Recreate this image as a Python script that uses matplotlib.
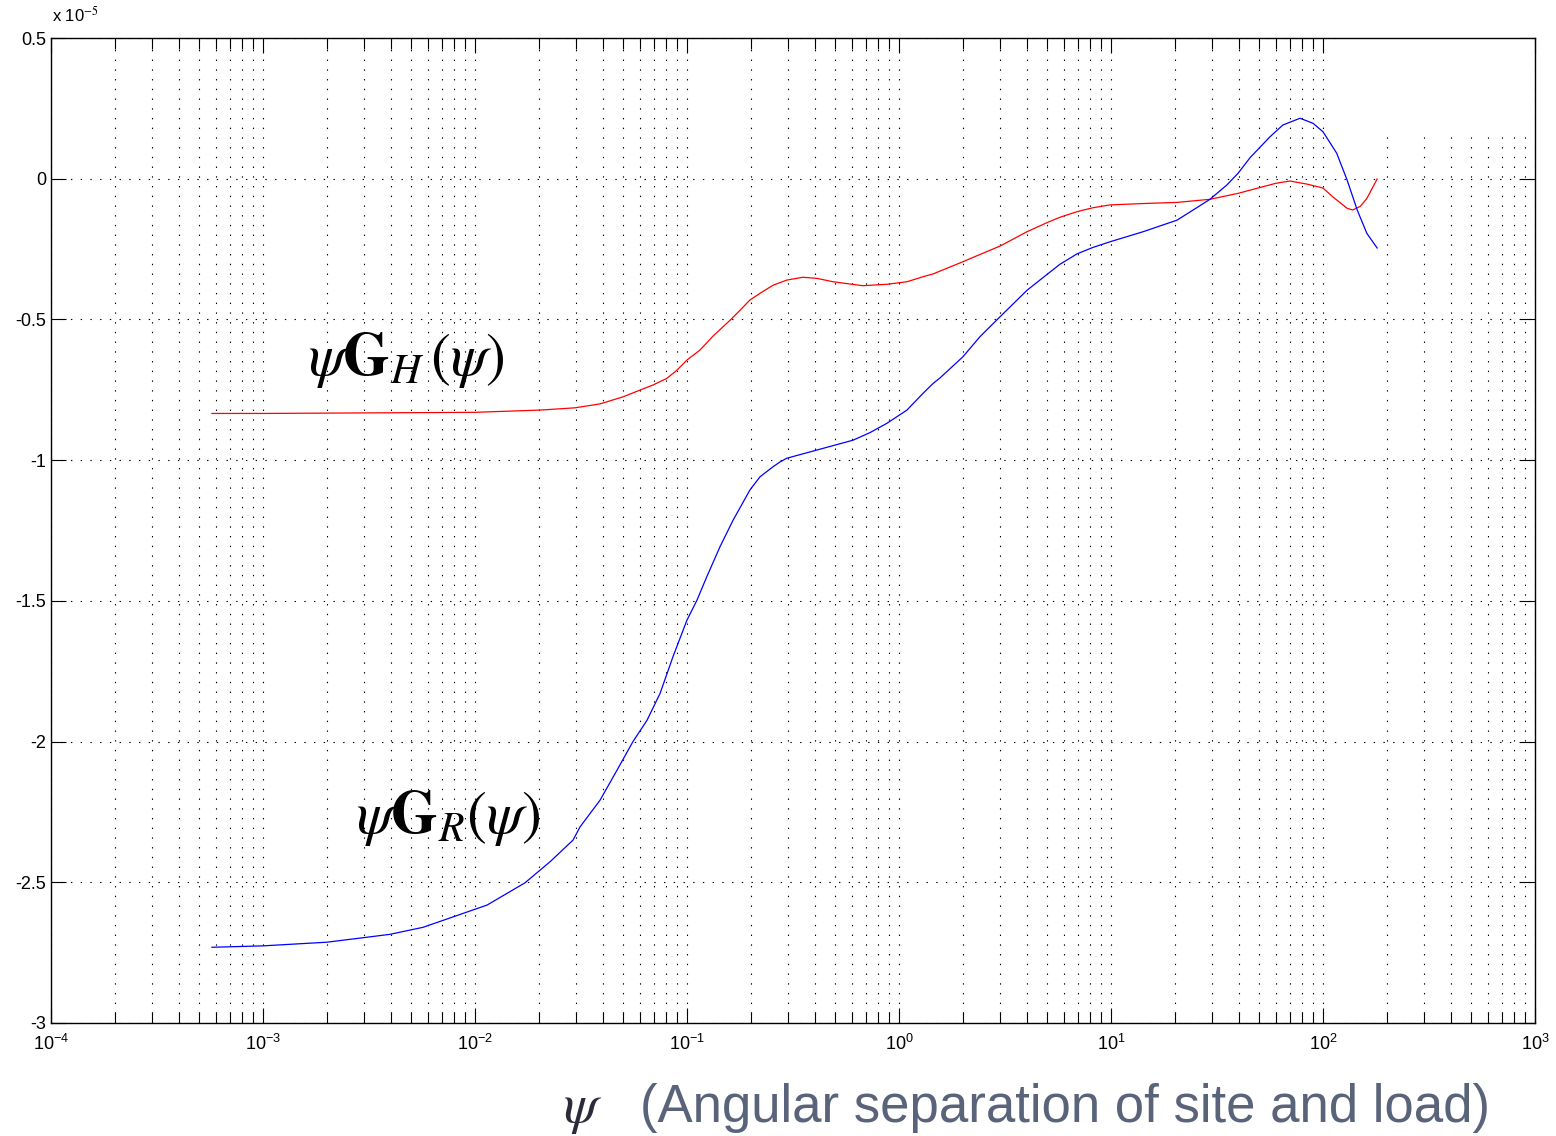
import numpy as np
import matplotlib
matplotlib.use('Agg')
import matplotlib.pyplot as plt
from matplotlib.ticker import LogLocator, FixedLocator, FormatStrFormatter
from matplotlib.patches import Rectangle

plt.rcParams['font.family'] = ['Liberation Sans', 'DejaVu Sans']
plt.rcParams['mathtext.fontset'] = 'stix'
plt.rcParams['axes.unicode_minus'] = False
plt.rcParams['lines.scale_dashes'] = False

# psi (deg) and psi*G_H(psi), values x 1e-5
psi_h = [5.74e-4, 1e-3, 0.01, 0.0203, 0.0296, 0.0389, 0.0499, 0.060, 0.0691,
         0.0805, 0.0897, 0.1, 0.115, 0.1327, 0.16, 0.178, 0.198, 0.221, 0.255,
         0.296, 0.352, 0.41, 0.488, 0.587, 0.676, 0.877, 1.09, 1.30, 1.45,
         2.0, 2.41, 3.0, 4.02, 4.99, 5.74, 6.91, 8.22, 9.89, 14.2, 20.5,
         29.3, 39.7, 50.5, 60, 69.9, 84, 100, 111.5, 130, 138, 150, 161, 180]
gh = [-0.834, -0.834, -0.830, -0.822, -0.814, -0.80, -0.775, -0.751, -0.733,
      -0.709, -0.68, -0.644, -0.609, -0.559, -0.502, -0.467, -0.431, -0.407, -0.378,
      -0.36, -0.35, -0.354, -0.366, -0.374, -0.38, -0.375, -0.366, -0.348, -0.338,
      -0.295, -0.269, -0.239, -0.188, -0.156, -0.137, -0.117, -0.103, -0.093, -0.088, -0.084,
      -0.073, -0.052, -0.031, -0.016, -0.008, -0.019, -0.033, -0.065, -0.105, -0.111, -0.098, -0.07, -0.001]

# psi (deg) and psi*G_R(psi), values x 1e-5
psi_r = [5.74e-4, 1e-3, 2e-3, 2.97e-3, 3.97e-3, 5.69e-3, 7.88e-3, 0.0114, 0.0172,
         0.0226, 0.029, 0.0313, 0.0389, 0.0468, 0.0556, 0.0648, 0.0746, 0.0859, 0.1,
         0.1115, 0.124, 0.143, 0.165, 0.198, 0.221, 0.255, 0.275, 0.296, 0.41,
         0.607, 0.73, 0.877, 1.09, 1.30, 1.45, 1.56, 2.0, 2.41, 3.0, 4.02, 4.99,
         5.74, 6.91, 8.22, 9.89, 14.2, 20.5, 24.4, 29.3, 35.2, 39.7, 45.3, 56.2,
         64.7, 77.9, 89.8, 100, 116, 130, 145, 161, 180]
gr = [-2.731, -2.726, -2.713, -2.697, -2.685, -2.66, -2.623, -2.581, -2.502,
      -2.427, -2.35, -2.303, -2.208, -2.101, -2.0, -1.924, -1.829, -1.698, -1.568,
      -1.497, -1.414, -1.308, -1.213, -1.106, -1.059, -1.023, -1.006, -0.993, -0.964,
      -0.929, -0.902, -0.869, -0.822, -0.762, -0.727, -0.708, -0.633, -0.561, -0.49, -0.396, -0.34,
      -0.304, -0.267, -0.244, -0.224, -0.188, -0.147, -0.111, -0.073, -0.022, 0.019, 0.075, 0.149,
      0.191, 0.215, 0.197, 0.167, 0.091, -0.005, -0.111, -0.194, -0.246]

decades = [1e-4, 1e-3, 1e-2, 1e-1, 1e0, 1e1, 1e2, 1e3]

fig = plt.figure(figsize=(15.56, 11.36), dpi=100)
ax = fig.add_axes([0.0328, 0.0995, 0.9537, 0.867])

ax.plot(psi_h, gh, color='red', lw=0.9)
ax.plot(psi_r, gr, color='blue', lw=0.9)

ax.set_xscale('log')
ax.set_xlim(1e-4, 1e3)
ax.set_ylim(-3, 0.5)
ax.set_yticks(np.arange(-3, 0.51, 0.5))
ax.yaxis.set_major_formatter(FormatStrFormatter('%g'))
ax.xaxis.set_major_locator(FixedLocator(decades))
ax.xaxis.set_minor_locator(LogLocator(base=10, subs=np.arange(2, 10), numticks=200))

ax.set_axisbelow(True)
dot = (0, (1, 6))
ax.grid(True, which='major', ls=dot, color='k', lw=0.8)
ax.grid(True, which='minor', axis='x', ls=dot, color='k', lw=0.8)
ax.tick_params(which='both', direction='in', top=True, right=True, labelsize=13)
ax.tick_params(which='major', length=11, width=0.8)
ax.tick_params(which='minor', length=8, width=0.8)
ax.tick_params(axis='x', pad=8)
for s in ax.spines.values():
    s.set_linewidth(1.0)

# blank patch in the top right corner
ax.add_patch(Rectangle((0.8686, 0.8995), 0.1301, 0.1005, transform=ax.transAxes,
                       facecolor='white', edgecolor='none', zorder=1))

fig.text(52/1556, 1 - 22/1136, r'x 10$^{-5}$', fontsize=12)

ax.text(308/1556, 1 - 375/1136, r'$\psi\mathbf{G}_{H}\,(\psi)$', fontsize=43,
        transform=fig.transFigure)
ax.text(356/1556, 1 - 833/1136, r'$\psi\mathbf{G}_{R}(\psi)$', fontsize=43,
        transform=fig.transFigure)

fig.text(563/1556, 1 - 1122/1136, r'$\psi$', fontsize=40, color='#2b2b3a')
fig.text(640/1556, 1 - 1122/1136, '(Angular separation of site and load)',
         fontsize=38, color='#596379',
         family=['Liberation Sans Narrow', 'Liberation Sans', 'DejaVu Sans'])

fig.savefig('out.png', dpi=100)
